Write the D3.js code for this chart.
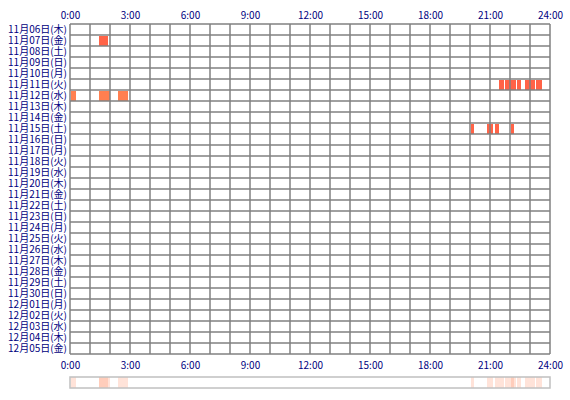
<!DOCTYPE html>
<html><head><meta charset="utf-8">
<script src="https://cdn.jsdelivr.net/npm/d3@7"></script>
<style>body{margin:0;background:#fff}svg{display:block}</style>
</head><body><svg id="c" width="570" height="400"></svg>
<script>
const days = ["11月06日(木)","11月07日(金)","11月08日(土)","11月09日(日)","11月10日(月)","11月11日(火)","11月12日(水)","11月13日(木)","11月14日(金)","11月15日(土)","11月16日(日)","11月17日(月)","11月18日(火)","11月19日(水)","11月20日(木)","11月21日(金)","11月22日(土)","11月23日(日)","11月24日(月)","11月25日(火)","11月26日(水)","11月27日(木)","11月28日(金)","11月29日(土)","11月30日(日)","12月01日(月)","12月02日(火)","12月03日(水)","12月04日(木)","12月05日(金)"];
const hourTicks = [0,3,6,9,12,15,18,21,24];
// activity intervals: [day index, start hour, end hour, color group]
const sessions = [
  [1, 1.45, 1.9, 0],
  [5, 21.45, 21.7, 0],
  [5, 21.75, 22.3, 0],
  [5, 22.35, 22.55, 0],
  [5, 22.75, 23.25, 0],
  [5, 23.3, 23.6, 0],
  [6, 0.05, 0.3, 1],
  [6, 1.45, 2.0, 1],
  [6, 2.4, 2.9, 1],
  [9, 20.05, 20.2, 0],
  [9, 20.85, 21.15, 0],
  [9, 21.25, 21.45, 0],
  [9, 22.05, 22.2, 0]
];
const colors = ["#ff6347", "#ff7f50"];

const svg = d3.select("#c");
const x = d3.scaleLinear().domain([0,24]).range([70,550]);
const y = d3.scaleBand().domain(days).range([24,354]);
const font = "'Noto Sans CJK JP', sans-serif";

// bars
svg.append("g").selectAll("rect").data(sessions).join("rect")
  .attr("x", d => x(d[1])).attr("width", d => x(d[2]) - x(d[1]))
  .attr("y", d => y(days[d[0]]) + 1).attr("height", y.bandwidth() - 1)
  .attr("fill", d => colors[d[3]]);

// grid lines
const g2 = svg.append("g").attr("stroke", "#808080").attr("stroke-width", 1.5).attr("fill","none");
g2.selectAll("line.v").data(d3.range(25)).join("line").attr("class","v")
  .attr("x1", d => x(d)).attr("x2", d => x(d)).attr("y1", 24).attr("y2", 354);
g2.selectAll("line.h").data(d3.range(31)).join("line").attr("class","h")
  .attr("x1", 70).attr("x2", 550).attr("y1", d => 24 + d * y.step()).attr("y2", d => 24 + d * y.step());

// day labels
const yAxis = svg.append("g").attr("transform","translate(67,0)")
  .call(d3.axisLeft(y).tickSize(0).tickPadding(0));
yAxis.select(".domain").remove();
yAxis.selectAll("text").attr("fill","#000080").style("font-family",font).style("font-size","10px");

// top & bottom hour labels
const fmt = d => d + ":00";
const topAxis = svg.append("g").attr("transform","translate(0,19)")
  .call(d3.axisTop(x).tickValues(hourTicks).tickFormat(fmt).tickSize(0).tickPadding(0));
const botAxis = svg.append("g").attr("transform","translate(0,362)")
  .call(d3.axisBottom(x).tickValues(hourTicks).tickFormat(fmt).tickSize(0).tickPadding(0));
[topAxis, botAxis].forEach(a => {
  a.select(".domain").remove();
  a.selectAll("text").attr("fill","#000080").style("font-family",font).style("font-size","10px");
});

// summary strip
svg.append("g").selectAll("rect").data(sessions).join("rect")
  .attr("x", d => x(d[1])).attr("width", d => x(d[2]) - x(d[1]))
  .attr("y", 377).attr("height", 11)
  .attr("fill", "#ff7f50").attr("fill-opacity", 0.22);
svg.append("rect").attr("x", 70).attr("y", 377).attr("width", 480).attr("height", 11)
  .attr("fill","none").attr("stroke","#c0c0c0").attr("stroke-width",1.5);
</script></body></html>
